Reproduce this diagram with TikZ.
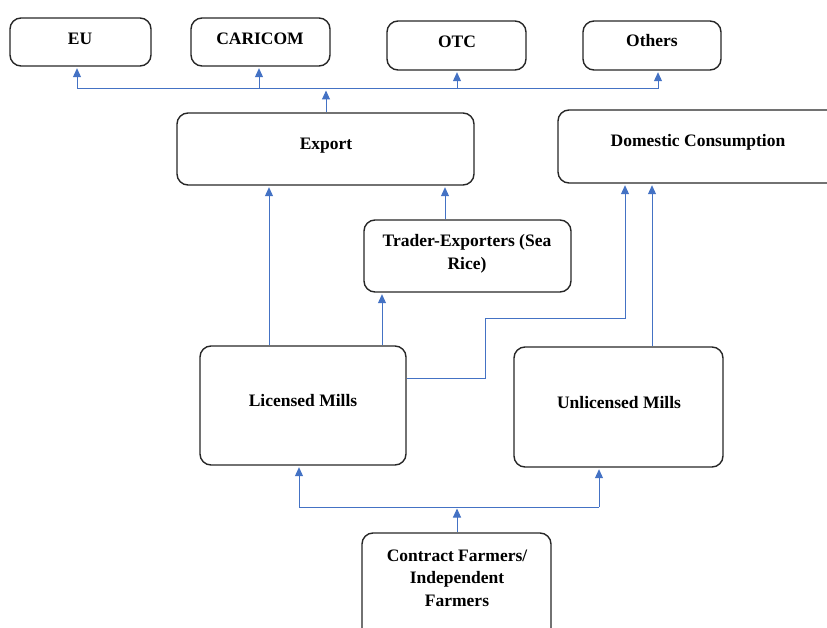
\documentclass[tikz,border=0pt]{standalone}
\usepackage{fontspec}
\setmainfont{Liberation Serif}
\usetikzlibrary{arrows.meta}
\definecolor{linkblue}{HTML}{4472C4}
\definecolor{boxline}{HTML}{262626}
\begin{document}
\begin{tikzpicture}[x=1pt,y=-1pt,
  box/.style={draw=boxline, line width=1.4pt, rounded corners=11pt, inner sep=0pt},
  txt/.style={font=\fontsize{17.5}{22.5}\selectfont\bfseries, align=center, inner sep=0pt, text=black},
  conn/.style={draw=linkblue, line width=1pt},
  arr/.style={conn, -{Triangle[width=8pt,length=9pt]}, shorten >=1.5pt}]
\useasboundingbox (0,0) rectangle (827,628);
\clip (0,0) rectangle (827,628);
% boxes
\node[box, minimum width=141pt, minimum height=48pt] (eu) at (80.5,42) {};
\node[box, minimum width=139pt, minimum height=48pt] (caricom) at (260.5,42) {};
\node[box, minimum width=139pt, minimum height=49pt] (otc) at (456.5,45.5) {};
\node[box, minimum width=138pt, minimum height=49pt] (others) at (652,45.5) {};
\node[box, minimum width=297pt, minimum height=72pt] (export) at (325.5,149) {};
\node[box, minimum width=282pt, minimum height=73pt] (domestic) at (699,146.5) {};
\node[box, minimum width=207pt, minimum height=72pt] (trader) at (467.5,256) {};
\node[box, minimum width=206pt, minimum height=119pt] (licensed) at (303,405.5) {};
\node[box, minimum width=209pt, minimum height=120pt] (unlicensed) at (618.5,407) {};
\node[box, minimum width=189pt, minimum height=112pt] (farmers) at (456.5,589) {};
% texts
\node[txt] (teu) at (80,39) {EU};
\node[txt] (tcaricom) at (260,39) {CARICOM};
\node[txt] (totc) at (457,42) {OTC};
\node[txt] (tothers) at (652,41) {Others};
\node[txt] (texport) at (326,146) {Export};
\node[txt] (tdomestic) at (698,142) {Domestic Consumption};
\node[txt] (ttrader) at (467,254) {Trader-Exporters (Sea\\Rice)};
\node[txt] (tlicensed) at (303,401) {Licensed Mills};
\node[txt] (tunlicensed) at (619,403) {Unlicensed Mills};
\node[txt] (tfarmers) at (457,578) {Contract Farmers/\\Independent\\Farmers};
% helper coordinates
\coordinate (bEU) at (77,89);
\coordinate (bCA) at (259,89);
\coordinate (bEX) at (326,89);
\coordinate (bOT) at (457,89);
\coordinate (bOH) at (658,89);
\coordinate (xa) at (269,0);
\coordinate (xb) at (445,0);
\coordinate (xc) at (382,0);
\coordinate (xd) at (625,0);
\coordinate (xe) at (652,0);
\coordinate (yl) at (0,378);
\coordinate (mid) at (485,318);
\coordinate (bL) at (299,507);
\coordinate (bF) at (457,507);
\coordinate (bU) at (599,507);
% top bus
\draw[conn] (bEU) -- (bOH);
\draw[arr] (bEU) -- (eu.south -| bEU);
\draw[arr] (bCA) -- (caricom.south -| bCA);
\draw[arr] (bOT) -- (otc.south -| bOT);
\draw[arr] (bOH) -- (others.south -| bOH);
\draw[arr] (export.north -| bEX) -- (bEX);
% into export
\draw[arr] (licensed.north -| xa) -- (export.south -| xa);
\draw[arr] (trader.north -| xb) -- (export.south -| xb);
\draw[arr] (licensed.north -| xc) -- (trader.south -| xc);
% into domestic
\draw[arr] (licensed.east |- yl) -| (mid) -| (domestic.south -| xd);
\draw[arr] (unlicensed.north -| xe) -- (domestic.south -| xe);
% bottom bus
\draw[conn] (bL) -- (bU);
\draw[arr] (farmers.north -| bF) -- (bF);
\draw[arr] (bL) -- (licensed.south -| bL);
\draw[arr] (bU) -- (unlicensed.south -| bU);
\end{tikzpicture}
\end{document}
